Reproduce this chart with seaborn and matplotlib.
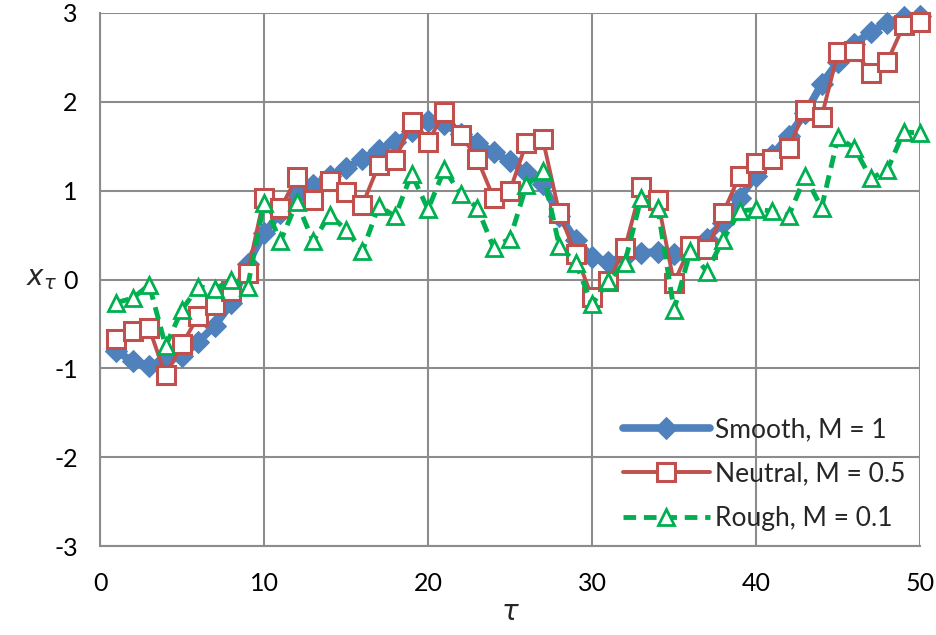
import matplotlib
matplotlib.use("Agg")
import matplotlib.pyplot as plt
import seaborn as sns
import pandas as pd

# ------------ data ------------#
tau = list(range(1, 51))

smooth = [-0.81, -0.92, -0.97, -0.90, -0.86, -0.70, -0.52, -0.27, 0.18, 0.52,
          0.75, 0.96, 1.06, 1.17, 1.25, 1.36, 1.46, 1.55, 1.67, 1.78,
          1.75, 1.64, 1.54, 1.43, 1.33, 1.21, 1.08, 0.72, 0.45, 0.25,
          0.20, 0.25, 0.30, 0.31, 0.29, 0.35, 0.46, 0.64, 0.92, 1.17,
          1.40, 1.62, 1.87, 2.20, 2.45, 2.65, 2.79, 2.89, 2.96, 2.97]

neutral = [-0.67, -0.58, -0.55, -1.08, -0.73, -0.41, -0.29, -0.13, 0.07, 0.92,
           0.80, 1.15, 0.90, 1.11, 0.99, 0.84, 1.29, 1.35, 1.77, 1.55,
           1.88, 1.63, 1.36, 0.92, 1.00, 1.54, 1.58, 0.75, 0.29, -0.20,
           -0.02, 0.35, 1.04, 0.90, -0.04, 0.38, 0.34, 0.75, 1.17, 1.31,
           1.36, 1.48, 1.91, 1.83, 2.56, 2.57, 2.33, 2.45, 2.86, 2.90]

rough = [-0.26, -0.21, -0.06, -0.75, -0.34, -0.08, -0.11, 0.00, -0.08, 0.86,
         0.43, 0.87, 0.43, 0.73, 0.56, 0.32, 0.83, 0.71, 1.19, 0.79,
         1.24, 0.96, 0.81, 0.36, 0.46, 1.06, 1.22, 0.38, 0.19, -0.28,
         -0.02, 0.19, 0.92, 0.81, -0.34, 0.32, 0.09, 0.45, 0.77, 0.79,
         0.77, 0.72, 1.16, 0.81, 1.60, 1.48, 1.14, 1.23, 1.66, 1.65]

labels = ["Smooth, M = 1", "Neutral, M = 0.5", "Rough, M = 0.1"]
x_ticks = [0, 10, 20, 30, 40, 50]
y_ticks = [-3, -2, -1, 0, 1, 2, 3]

df = pd.DataFrame({"tau": tau, labels[0]: smooth, labels[1]: neutral, labels[2]: rough})

sns.set_style("white")
plt.rcParams['font.family'] = ['Lato', 'DejaVu Sans']
plt.rcParams['axes.unicode_minus'] = False

grid_c = "#8c8c8c"
fig = plt.figure(figsize=(9.37, 6.35), dpi=100)
ax = fig.add_axes([100 / 937, 89 / 635, 820 / 937, 533 / 635])

sns.lineplot(data=df, x="tau", y=labels[0], ax=ax, color="#4F81BD", lw=5.5,
             marker="D", markersize=11, markeredgecolor="#4F81BD",
             label=labels[0], zorder=3, clip_on=False)
sns.lineplot(data=df, x="tau", y=labels[1], ax=ax, color="#C0504D", lw=2.8,
             marker="s", markersize=13, markerfacecolor="white",
             markeredgecolor="#C0504D", markeredgewidth=2.2,
             label=labels[1], zorder=4, clip_on=False)
sns.lineplot(data=df, x="tau", y=labels[2], ax=ax, color="#00B050", lw=3.5,
             dashes=(2.6, 1.6), marker="^", markersize=12,
             markerfacecolor="white", markeredgecolor="#00B050",
             markeredgewidth=2.0, label=labels[2], zorder=5, clip_on=False)

ax.set_xlim(0, 50)
ax.set_ylim(-3, 3)
ax.set_xticks(x_ticks)
ax.set_yticks(y_ticks)
ax.grid(True, color=grid_c, lw=1.5)
ax.set_axisbelow(True)
for s in ["top", "right"]:
    ax.spines[s].set_visible(False)
for s in ["left", "bottom"]:
    ax.spines[s].set_color(grid_c)
    ax.spines[s].set_linewidth(1.5)
ax.tick_params(axis="both", labelsize=18, colors=grid_c, labelcolor="black",
               length=7, width=1.5, direction="out")
ax.tick_params(axis="y", pad=9)
ax.tick_params(axis="x", pad=12)

ax.set_xlabel(r"$\tau$", fontsize=20, va="center")
ax.xaxis.set_label_coords(0.5, -0.124)
ax.set_ylabel(r"$x_\tau$", fontsize=20, rotation=0, va="center", ha="center")
ax.yaxis.set_label_coords(-0.071, 0.5)

leg = ax.legend(loc="lower right", bbox_to_anchor=(1.0, 0.0), frameon=False,
                fontsize=19, handlelength=3.3, handletextpad=0.2,
                labelspacing=0.75, borderaxespad=0.15)

plt.savefig("out.png", dpi=100)
